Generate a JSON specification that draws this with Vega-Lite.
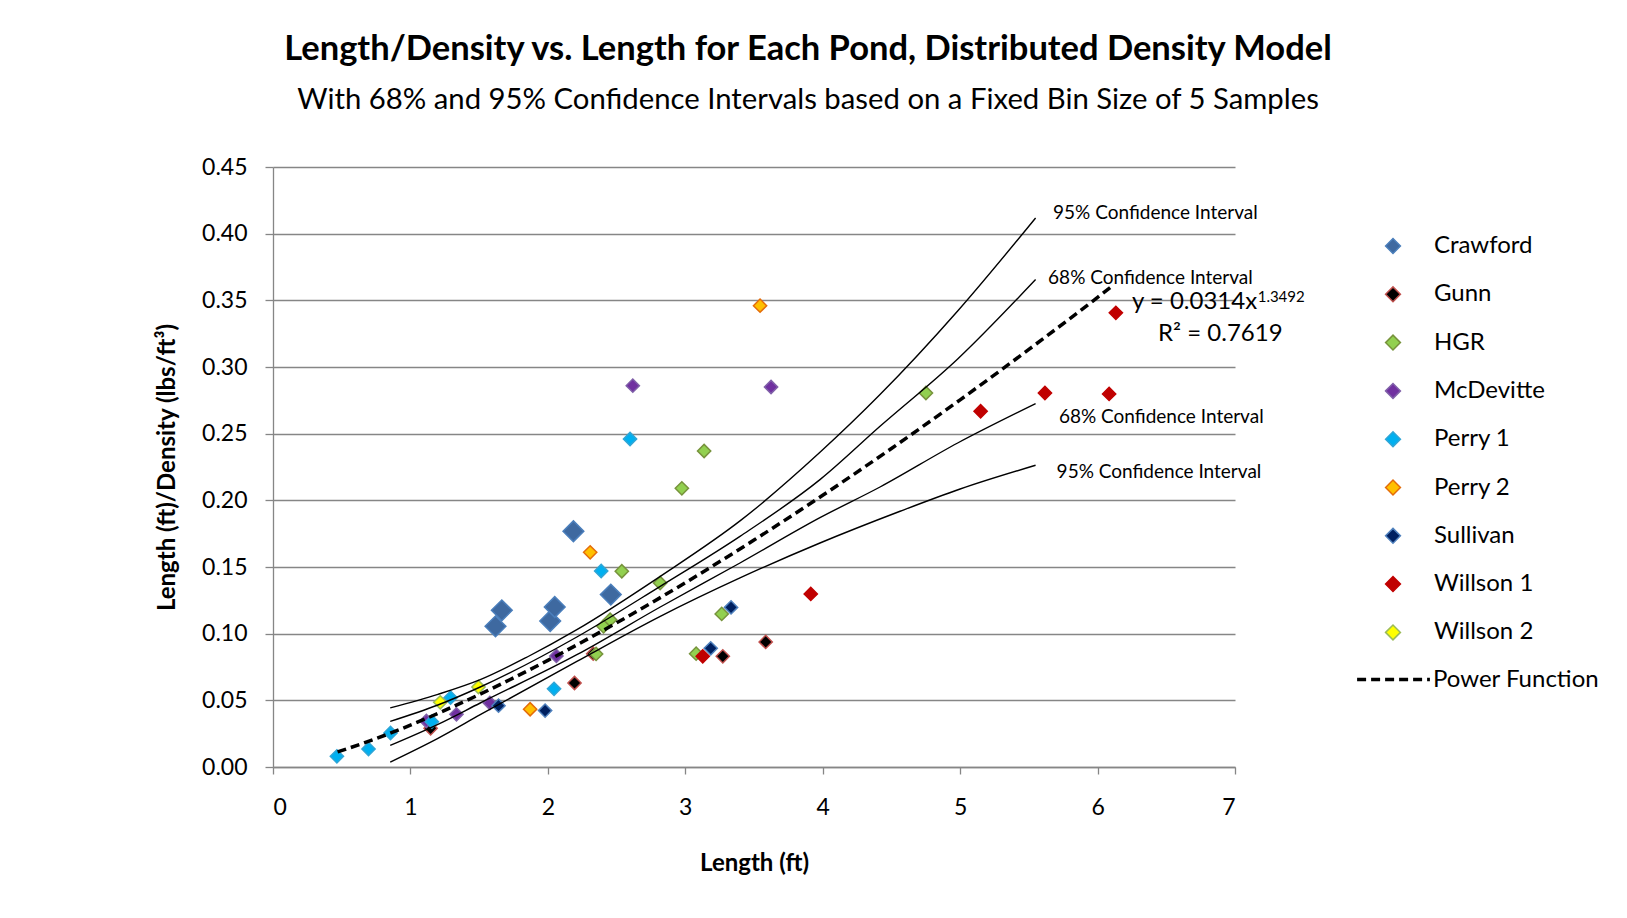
{
  "$schema": "https://vega.github.io/schema/vega-lite/v6.json",
  "width": 962,
  "height": 600,
  "autosize": {"type": "none"},
  "padding": {"left": 273, "top": 167, "right": 392, "bottom": 151},
  "background": "white",
  "title": {
    "text": "Length/Density vs. Length for Each Pond, Distributed Density Model",
    "subtitle": "With 68% and 95% Confidence Intervals based on a Fixed Bin Size of 5 Samples",
    "font": "Lato",
    "fontSize": 34.5,
    "fontWeight": "bold",
    "color": "black",
    "subtitleFont": "Lato",
    "subtitleFontSize": 29.3,
    "subtitleColor": "black",
    "subtitlePadding": 18,
    "anchor": "middle",
    "dx": 54,
    "offset": 40
  },
  "config": {"view": {"stroke": null}, "font": "Lato"},
  "datasets": {
    "points": [
      {"series": "Crawford", "length": 1.619, "ratio": 0.1055},
      {"series": "Crawford", "length": 1.665, "ratio": 0.1175},
      {"series": "Crawford", "length": 2.017, "ratio": 0.1095},
      {"series": "Crawford", "length": 2.05, "ratio": 0.12},
      {"series": "Crawford", "length": 2.186, "ratio": 0.1768},
      {"series": "Crawford", "length": 2.458, "ratio": 0.1293},
      {"series": "Gunn", "length": 1.147, "ratio": 0.029},
      {"series": "Gunn", "length": 2.194, "ratio": 0.063},
      {"series": "Gunn", "length": 2.33, "ratio": 0.085},
      {"series": "Gunn", "length": 3.273, "ratio": 0.083},
      {"series": "Gunn", "length": 3.585, "ratio": 0.0938},
      {"series": "HGR", "length": 2.351, "ratio": 0.0848},
      {"series": "HGR", "length": 2.405, "ratio": 0.1055},
      {"series": "HGR", "length": 2.453, "ratio": 0.1105},
      {"series": "HGR", "length": 2.538, "ratio": 0.1468},
      {"series": "HGR", "length": 2.817, "ratio": 0.138},
      {"series": "HGR", "length": 2.975, "ratio": 0.209},
      {"series": "HGR", "length": 3.079, "ratio": 0.085},
      {"series": "HGR", "length": 3.137, "ratio": 0.237},
      {"series": "HGR", "length": 3.265, "ratio": 0.1148},
      {"series": "HGR", "length": 4.751, "ratio": 0.2805},
      {"series": "McDevitte", "length": 1.116, "ratio": 0.0345},
      {"series": "McDevitte", "length": 1.335, "ratio": 0.0395},
      {"series": "McDevitte", "length": 1.578, "ratio": 0.048},
      {"series": "McDevitte", "length": 2.062, "ratio": 0.0833},
      {"series": "McDevitte", "length": 2.618, "ratio": 0.286},
      {"series": "McDevitte", "length": 3.624, "ratio": 0.285},
      {"series": "Perry 1", "length": 0.465, "ratio": 0.008},
      {"series": "Perry 1", "length": 0.695, "ratio": 0.0135},
      {"series": "Perry 1", "length": 0.855, "ratio": 0.0255},
      {"series": "Perry 1", "length": 1.156, "ratio": 0.034},
      {"series": "Perry 1", "length": 1.292, "ratio": 0.052},
      {"series": "Perry 1", "length": 2.045, "ratio": 0.0586},
      {"series": "Perry 1", "length": 2.388, "ratio": 0.147},
      {"series": "Perry 1", "length": 2.598, "ratio": 0.246},
      {"series": "Perry 2", "length": 1.871, "ratio": 0.0433},
      {"series": "Perry 2", "length": 2.308, "ratio": 0.161},
      {"series": "Perry 2", "length": 3.544, "ratio": 0.346},
      {"series": "Sullivan", "length": 1.641, "ratio": 0.046},
      {"series": "Sullivan", "length": 1.98, "ratio": 0.0423},
      {"series": "Sullivan", "length": 3.185, "ratio": 0.089},
      {"series": "Sullivan", "length": 3.333, "ratio": 0.1197},
      {"series": "Willson 1", "length": 3.127, "ratio": 0.083},
      {"series": "Willson 1", "length": 3.913, "ratio": 0.1298},
      {"series": "Willson 1", "length": 5.149, "ratio": 0.2668},
      {"series": "Willson 1", "length": 5.617, "ratio": 0.2805},
      {"series": "Willson 1", "length": 6.084, "ratio": 0.2798},
      {"series": "Willson 1", "length": 6.133, "ratio": 0.3406},
      {"series": "Willson 2", "length": 1.217, "ratio": 0.0485},
      {"series": "Willson 2", "length": 1.495, "ratio": 0.06}
    ],
    "power": [
      {"curve": "Power Function", "length": 0.47, "ratio": 0.0113},
      {"curve": "Power Function", "length": 0.75, "ratio": 0.0213},
      {"curve": "Power Function", "length": 1.0, "ratio": 0.0314},
      {"curve": "Power Function", "length": 1.5, "ratio": 0.0543},
      {"curve": "Power Function", "length": 2.0, "ratio": 0.08},
      {"curve": "Power Function", "length": 2.5, "ratio": 0.1081},
      {"curve": "Power Function", "length": 3.0, "ratio": 0.1382},
      {"curve": "Power Function", "length": 3.5, "ratio": 0.1702},
      {"curve": "Power Function", "length": 4.0, "ratio": 0.2038},
      {"curve": "Power Function", "length": 4.5, "ratio": 0.2389},
      {"curve": "Power Function", "length": 5.0, "ratio": 0.2754},
      {"curve": "Power Function", "length": 5.5, "ratio": 0.3132},
      {"curve": "Power Function", "length": 6.0, "ratio": 0.3522},
      {"curve": "Power Function", "length": 6.12, "ratio": 0.3618}
    ],
    "ci": [
      {"band": "upper95", "length": 0.853, "ratio": 0.0443},
      {"band": "upper95", "length": 1.2, "ratio": 0.0545},
      {"band": "upper95", "length": 1.508, "ratio": 0.0655},
      {"band": "upper95", "length": 1.85, "ratio": 0.0825},
      {"band": "upper95", "length": 2.211, "ratio": 0.103},
      {"band": "upper95", "length": 2.818, "ratio": 0.143},
      {"band": "upper95", "length": 3.41, "ratio": 0.1855},
      {"band": "upper95", "length": 3.98, "ratio": 0.236},
      {"band": "upper95", "length": 4.417, "ratio": 0.2793},
      {"band": "upper95", "length": 4.982, "ratio": 0.342},
      {"band": "upper95", "length": 5.549, "ratio": 0.4118},
      {"band": "upper68", "length": 0.853, "ratio": 0.0342},
      {"band": "upper68", "length": 1.2, "ratio": 0.0465},
      {"band": "upper68", "length": 1.508, "ratio": 0.06},
      {"band": "upper68", "length": 2.211, "ratio": 0.0975},
      {"band": "upper68", "length": 2.818, "ratio": 0.1355},
      {"band": "upper68", "length": 3.398, "ratio": 0.173},
      {"band": "upper68", "length": 3.98, "ratio": 0.2155},
      {"band": "upper68", "length": 4.417, "ratio": 0.2555},
      {"band": "upper68", "length": 4.982, "ratio": 0.306},
      {"band": "upper68", "length": 5.549, "ratio": 0.3656},
      {"band": "lower68", "length": 0.853, "ratio": 0.0162},
      {"band": "lower68", "length": 1.2, "ratio": 0.032},
      {"band": "lower68", "length": 1.508, "ratio": 0.048},
      {"band": "lower68", "length": 2.211, "ratio": 0.0842},
      {"band": "lower68", "length": 2.818, "ratio": 0.12},
      {"band": "lower68", "length": 3.398, "ratio": 0.153},
      {"band": "lower68", "length": 3.98, "ratio": 0.187},
      {"band": "lower68", "length": 4.417, "ratio": 0.21},
      {"band": "lower68", "length": 4.982, "ratio": 0.243},
      {"band": "lower68", "length": 5.549, "ratio": 0.2725},
      {"band": "lower95", "length": 0.853, "ratio": 0.0037},
      {"band": "lower95", "length": 1.2, "ratio": 0.0215},
      {"band": "lower95", "length": 1.508, "ratio": 0.0392},
      {"band": "lower95", "length": 2.211, "ratio": 0.0792},
      {"band": "lower95", "length": 2.818, "ratio": 0.113},
      {"band": "lower95", "length": 3.398, "ratio": 0.1418},
      {"band": "lower95", "length": 3.98, "ratio": 0.168},
      {"band": "lower95", "length": 4.563, "ratio": 0.1918},
      {"band": "lower95", "length": 5.0, "ratio": 0.2085},
      {"band": "lower95", "length": 5.549, "ratio": 0.2263}
    ],
    "cilabels": [
      {"label": "95% Confidence Interval", "length": 5.676, "ratio": 0.4157},
      {"label": "68% Confidence Interval", "length": 5.64, "ratio": 0.367},
      {"label": "68% Confidence Interval", "length": 5.719, "ratio": 0.2627},
      {"label": "95% Confidence Interval", "length": 5.702, "ratio": 0.2215}
    ],
    "equation": [
      {"label": "y = 0.0314x", "length": 6.25, "ratio": 0.3488},
      {"label": "R² = 0.7619", "length": 6.44, "ratio": 0.3245}
    ],
    "exponent": [
      {"label": "1.3492", "length": 7.165, "ratio": 0.3527}
    ]
  },
  "layer": [
    {
      "data": {"name": "points"},
      "transform": [{"filter": "datum.series !== 'Crawford'"}],
      "mark": {"type": "point", "shape": "diamond", "filled": true, "strokeWidth": 1.5, "opacity": 1, "size": 175},
      "encoding": {
        "x": {
          "field": "length", "type": "quantitative",
          "scale": {"domain": [0, 7], "nice": false, "zero": true},
          "axis": {
            "title": "Length (ft)", "values": [0, 1, 2, 3, 4, 5, 6, 7], "format": "d",
            "grid": false, "domainColor": "#868686", "domainWidth": 1.3,
            "tickColor": "#868686", "tickSize": 7, "tickWidth": 1.3,
            "labelFont": "Lato", "labelFontSize": 23, "labelColor": "black", "labelPadding": 22,
            "titleFont": "Lato", "titleFontSize": 24, "titleFontWeight": "bold", "titleColor": "black", "titlePadding": 32
          }
        },
        "y": {
          "field": "ratio", "type": "quantitative",
          "scale": {"domain": [0, 0.45], "nice": false},
          "axis": {
            "title": "Length (ft)/Density (lbs/ft³)",
            "values": [0, 0.05, 0.1, 0.15, 0.2, 0.25, 0.3, 0.35, 0.4, 0.45], "format": ".2f",
            "grid": true, "gridColor": "#868686", "gridWidth": 1.3,
            "domainColor": "#868686", "domainWidth": 1.3,
            "tickColor": "#868686", "tickSize": 8, "tickWidth": 1.3,
            "labelFont": "Lato", "labelFontSize": 23, "labelColor": "black", "labelPadding": 18,
            "titleFont": "Lato", "titleFontSize": 24, "titleFontWeight": "bold", "titleColor": "black", "titlePadding": 22
          }
        },
        "fill": {
          "field": "series", "type": "nominal",
          "scale": {
            "domain": ["Crawford", "Gunn", "HGR", "McDevitte", "Perry 1", "Perry 2", "Sullivan", "Willson 1", "Willson 2"],
            "range": ["#3E69A0", "#000000", "#92D050", "#7030A0", "#00B0F0", "#FFC000", "#002060", "#C00000", "#FFFF00"]
          },
          "legend": {
            "title": null, "orient": "none", "legendX": 1108, "legendY": 67,
            "symbolType": "diamond", "symbolSize": 220, "symbolStrokeWidth": 1.5,
            "labelFont": "Lato", "labelFontSize": 24, "labelColor": "black", "labelOffset": 29, "labelLimit": 300,
            "rowPadding": 24.3, "padding": 0
          }
        },
        "stroke": {
          "field": "series", "type": "nominal",
          "scale": {
            "domain": ["Crawford", "Gunn", "HGR", "McDevitte", "Perry 1", "Perry 2", "Sullivan", "Willson 1", "Willson 2"],
            "range": ["#4A7EBB", "#C0504D", "#77933C", "#7F5FA8", "#2FA5D6", "#E46C0A", "#4F81BD", "#C00000", "#9BBB59"]
          },
          "legend": {
            "title": null, "orient": "none", "legendX": 1108, "legendY": 67,
            "symbolType": "diamond", "symbolSize": 220, "symbolStrokeWidth": 1.5,
            "labelFont": "Lato", "labelFontSize": 24, "labelColor": "black", "labelOffset": 29, "labelLimit": 300,
            "rowPadding": 24.3, "padding": 0
          }
        }
      }
    },
    {
      "data": {"name": "points"},
      "transform": [{"filter": "datum.series === 'Crawford'"}],
      "mark": {"type": "point", "shape": "diamond", "filled": true, "strokeWidth": 1.5, "opacity": 1, "size": 430},
      "encoding": {
        "x": {"field": "length", "type": "quantitative"},
        "y": {"field": "ratio", "type": "quantitative"},
        "fill": {"field": "series", "type": "nominal"},
        "stroke": {"field": "series", "type": "nominal"}
      }
    },
    {
      "data": {"name": "ci"},
      "mark": {"type": "line", "color": "black", "strokeWidth": 1.4, "interpolate": "monotone"},
      "encoding": {
        "x": {"field": "length", "type": "quantitative"},
        "y": {"field": "ratio", "type": "quantitative"},
        "detail": {"field": "band", "type": "nominal"}
      }
    },
    {
      "data": {"name": "power"},
      "mark": {"type": "line", "color": "black", "strokeWidth": 3.5, "interpolate": "monotone"},
      "encoding": {
        "x": {"field": "length", "type": "quantitative"},
        "y": {"field": "ratio", "type": "quantitative"},
        "strokeDash": {
          "field": "curve", "type": "nominal",
          "scale": {"domain": ["Power Function"], "range": [[9, 5]]},
          "legend": {
            "title": null, "orient": "none", "legendX": 1082, "legendY": 474,
            "symbolType": "stroke", "symbolSize": 5300, "symbolStrokeWidth": 3.5, "symbolStrokeColor": "black",
            "labelFont": "Lato", "labelFontSize": 24, "labelColor": "black", "labelOffset": 1, "labelLimit": 300, "padding": 0
          }
        }
      }
    },
    {
      "data": {"name": "cilabels"},
      "mark": {"type": "text", "align": "left", "baseline": "middle", "font": "Lato", "fontSize": 19, "color": "black"},
      "encoding": {
        "x": {"field": "length", "type": "quantitative"},
        "y": {"field": "ratio", "type": "quantitative"},
        "text": {"field": "label", "type": "nominal"}
      }
    },
    {
      "data": {"name": "equation"},
      "mark": {"type": "text", "align": "left", "baseline": "middle", "font": "Lato", "fontSize": 24, "color": "black"},
      "encoding": {
        "x": {"field": "length", "type": "quantitative"},
        "y": {"field": "ratio", "type": "quantitative"},
        "text": {"field": "label", "type": "nominal"}
      }
    },
    {
      "data": {"name": "exponent"},
      "mark": {"type": "text", "align": "left", "baseline": "middle", "font": "Lato", "fontSize": 15, "color": "black"},
      "encoding": {
        "x": {"field": "length", "type": "quantitative"},
        "y": {"field": "ratio", "type": "quantitative"},
        "text": {"field": "label", "type": "nominal"}
      }
    }
  ]
}
